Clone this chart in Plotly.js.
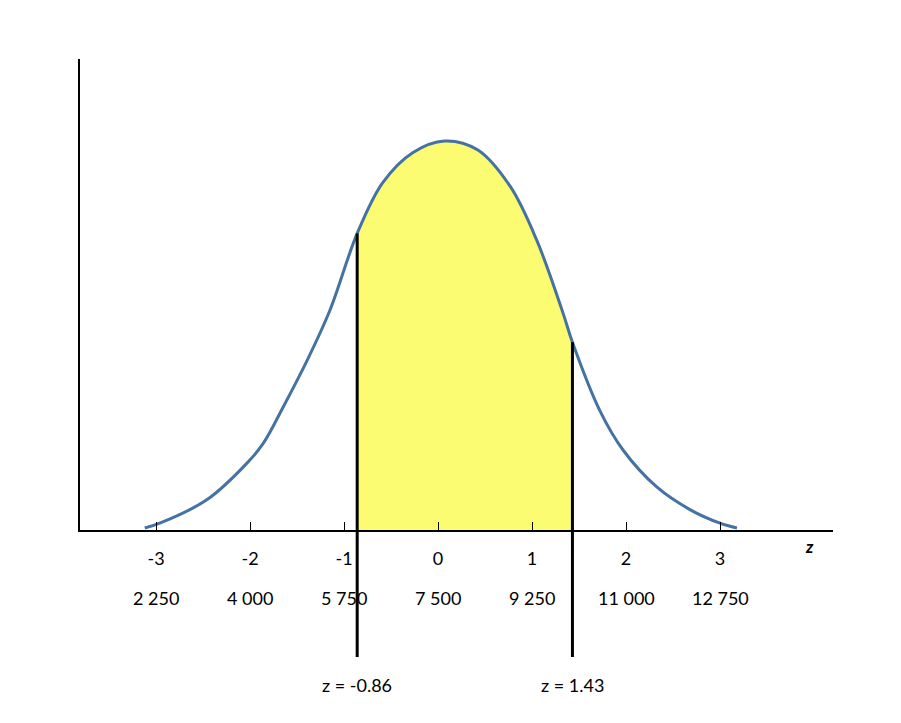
<!DOCTYPE html>
<html>
<head>
<meta charset="utf-8">
<script src="https://cdn.plot.ly/plotly-3.0.1.min.js"></script>
<style>html,body{margin:0;padding:0;background:#fff;}#chart{width:901px;height:723px;}</style>
</head>
<body>
<div id="chart"></div>
<script>
// Tick positions (z) and labels
var zTicks = [-3, -2, -1, 0, 1, 2, 3];
var zLabels = ["-3", "-2", "-1", "0", "1", "2", "3"];
var valueLabels = ["2 250", "4 000", "5 750", "7 500", "9 250", "11 000", "12 750"];

// Hand-drawn normal curve (z, height)
var curveZ = [-3.12, -2.96, -2.46, -2.03, -1.86, -1.65, -1.39, -1.15, -0.86, -0.59, -0.27, 0.07, 0.42, 0.77, 1.05, 1.33, 1.43, 1.72, 1.97, 2.33, 2.68, 3.00, 3.18];
var curveY = [0.002, 0.007, 0.031, 0.069, 0.089, 0.126, 0.175, 0.226, 0.305, 0.357, 0.388, 0.400, 0.391, 0.353, 0.298, 0.223, 0.193, 0.123, 0.082, 0.044, 0.021, 0.007, 0.002];

// Cut-off values
var cutZ = [-0.86, 1.43];
var cutY = [0.305, 0.193];
var cutText = ["z = -0.86", "z = 1.43"];

var fillZ = [], fillY = [];
for (var i = 0; i < curveZ.length; i++) {
  if (curveZ[i] >= cutZ[0] && curveZ[i] <= cutZ[1]) { fillZ.push(curveZ[i]); fillY.push(curveY[i]); }
}

var FONT = "Lato, 'Liberation Sans', sans-serif";
var lineBottom = -0.1306;

var traces = [
  {x: fillZ, y: fillY, type: 'scatter', mode: 'lines', line: {shape: 'spline', width: 0, color: '#FCFC73'},
   fill: 'tozeroy', fillcolor: '#FCFC73', xaxis: 'x', yaxis: 'y', hoverinfo: 'skip'},
  {x: curveZ, y: curveY, type: 'scatter', mode: 'lines', line: {shape: 'spline', width: 3, color: '#4672A1'},
   xaxis: 'x', yaxis: 'y', hoverinfo: 'skip'}
];
for (var k = 0; k < cutZ.length; k++) {
  traces.push({x: [cutZ[k], cutZ[k]], y: [cutY[k], lineBottom], type: 'scatter', mode: 'lines',
    line: {width: 3, color: '#000'}, xaxis: 'x', yaxis: 'y2', hoverinfo: 'skip'});
}

var annotations = [];
for (var j = 0; j < zTicks.length; j++) {
  annotations.push({x: zTicks[j], y: -0.0699, xref: 'x', yref: 'y2', text: valueLabels[j], showarrow: false,
    font: {family: FONT, size: 18, color: '#000'}, xanchor: 'center', yanchor: 'middle'});
}
for (var m = 0; m < cutZ.length; m++) {
  annotations.push({x: cutZ[m], y: -0.159, xref: 'x', yref: 'y2', text: cutText[m], showarrow: false,
    font: {family: FONT, size: 18, color: '#000'}, xanchor: 'center', yanchor: 'middle'});
}
annotations.push({x: 3.947, y: -0.0175, xref: 'x', yref: 'y2', text: '<b><i>z</i></b>', showarrow: false,
  font: {family: FONT, size: 17, color: '#000'}, xanchor: 'center', yanchor: 'middle'});

var layout = {
  width: 901, height: 723,
  margin: {l: 0, r: 0, t: 0, b: 0},
  paper_bgcolor: '#fff', plot_bgcolor: 'rgba(0,0,0,0)',
  showlegend: false,
  xaxis: {domain: [80/901, 833/901], range: [-3.809, 4.202], anchor: 'y',
    showline: true, linewidth: 2, linecolor: '#000', showgrid: false, zeroline: false,
    tickmode: 'array', tickvals: zTicks, ticktext: zLabels, ticks: 'inside', ticklen: 8, tickwidth: 1, tickcolor: '#000',
    tickfont: {family: FONT, size: 18, color: '#000'}, ticklabelstandoff: 11, fixedrange: true},
  yaxis: {domain: [193/723, 664/723], range: [0, 0.4843], anchor: 'x',
    showline: true, linewidth: 2, linecolor: '#000', showgrid: false, zeroline: false,
    showticklabels: false, ticks: '', fixedrange: true},
  yaxis2: {domain: [0, 1], range: [-0.1985, 0.545], anchor: 'free', position: 0, visible: false,
    showgrid: false, zeroline: false, fixedrange: true},
  annotations: annotations
};

Plotly.newPlot('chart', traces, layout, {staticPlot: true, displayModeBar: false});
</script>
</body>
</html>
